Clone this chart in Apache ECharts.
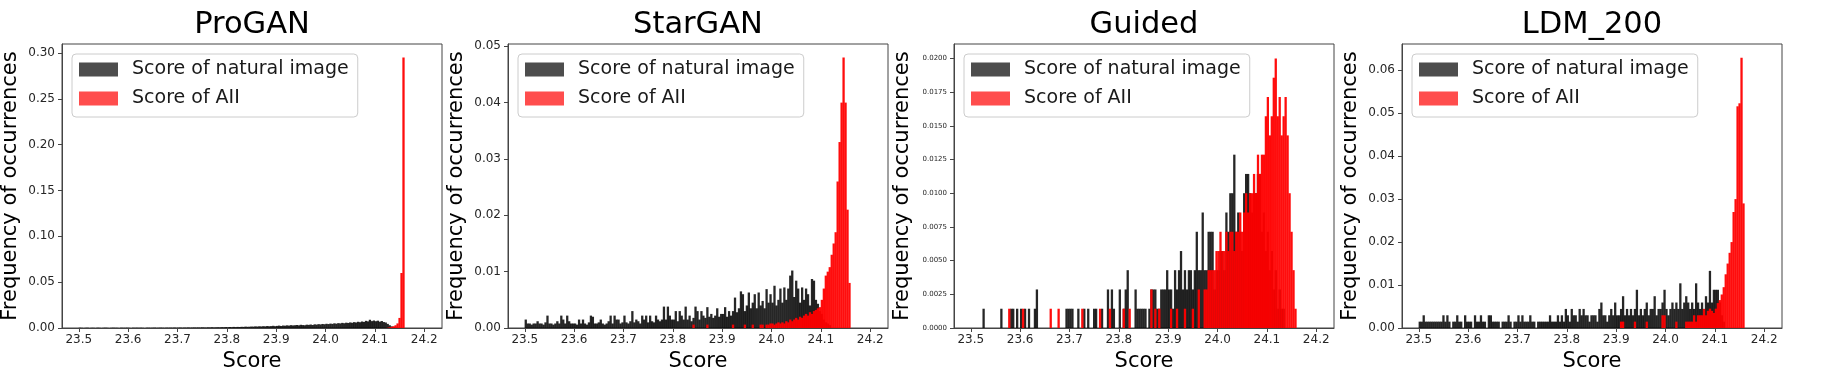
<!DOCTYPE html>
<html><head><meta charset="utf-8">
<script src="https://cdn.jsdelivr.net/npm/echarts@6/dist/echarts.min.js"></script>
<style>html,body{margin:0;padding:0;background:#fff}#c{width:1832px;height:369px}</style>
</head><body><div id="c"></div>
<script>
// ---------- DATA ----------
const BIN_WIDTH = 0.004;
const panelTitles = ['ProGAN', 'StarGAN', 'Guided', 'LDM_200'];
const seriesNames = ['Score of natural image', 'Score of AII'];
const xTicks = [23.5, 23.6, 23.7, 23.8, 23.9, 24.0, 24.1, 24.2];
const yTicksProGAN = [0, 0.05, 0.10, 0.15, 0.20, 0.25, 0.30];
const yTicksStarGAN = [0, 0.01, 0.02, 0.03, 0.04, 0.05];
const yTicksGuided = [0, 0.0025, 0.005, 0.0075, 0.01, 0.0125, 0.015, 0.0175, 0.02];
const yTicksLDM = [0, 0.01, 0.02, 0.03, 0.04, 0.05, 0.06];

// ProGAN
const proganNaturalStart = 23.500;
const proganNatural = [
0.0003,0.0002,0,0.0002,0.0003,0,0.0002,0.0002,0,0.0003,
0.0002,0,0.0002,0.0003,0.0002,0,0.0002,0.0003,0.0002,0.0002,
0,0.0003,0.0002,0.0002,0.0003,0.0002,0,0.0003,0.0002,0.0003,
0.0002,0.0003,0.0002,0,0.0003,0.0003,0.0002,0.0003,0.0004,0.0002,
0.0003,0.0004,0.0003,0.0002,0.0004,0.0003,0.0004,0.0003,0.0005,0.0003,
0.0004,0.0005,0.0003,0.0005,0.0004,0.0006,0.0004,0.0005,0.0006,0.0005,
0.0006,0.0005,0.0007,0.0006,0.0005,0.0007,0.0006,0.0008,0.0006,0.0007,
0.0008,0.0007,0.0009,0.0008,0.0010,0.0008,0.0011,0.0009,0.0012,0.0010,
0.0012,0.0011,0.0013,0.0012,0.0015,0.0013,0.0014,0.0016,0.0015,0.0018,
0.0016,0.0019,0.0017,0.0020,0.0018,0.0022,0.0019,0.0021,0.0024,0.0020,
0.0023,0.0026,0.0022,0.0027,0.0025,0.0029,0.0026,0.0031,0.0028,0.0030,
0.0033,0.0029,0.0035,0.0032,0.0030,0.0036,0.0034,0.0038,0.0033,0.0040,
0.0037,0.0042,0.0039,0.0044,0.0041,0.0046,0.0043,0.0048,0.0045,0.0051,
0.0047,0.0053,0.0050,0.0056,0.0052,0.0058,0.0055,0.0061,0.0057,0.0064,
0.0060,0.0068,0.0063,0.0071,0.0066,0.0078,0.0072,0.0090,0.0075,0.0082,
0.0074,0.0080,0.0069,0.0076,0.0065,0.0060,0.0045,0.0030,0.0018,0.0010,
0.0005,0.0002,0,0,0];
const proganAIStart = 24.120;
const proganAI = [0,0.0003,0.0008,0.0012,0.0020,0.0030,0.0050,0.0110,0.0600,0.2950];

// StarGAN
const starganNaturalStart = 23.500;
const starganNatural = [
0.0015,0.0008,0.0008,0.0006,0.0008,0.0008,0.0012,0.0008,0.0008,0.0006,
0.0010,0.0022,0.0008,0.0008,0.0006,0.0008,0.0012,0.0008,0.0022,0.0015,
0.0008,0.0022,0.0012,0.0008,0.0008,0.0008,0.0006,0.0015,0.0008,0.0015,
0.0008,0.0006,0.0010,0.0022,0.0020,0.0008,0.0008,0.0010,0.0015,0.0008,
0.0006,0.0008,0.0012,0.0022,0.0008,0.0022,0.0015,0.0015,0.0008,0.0010,
0.0022,0.0010,0.0008,0.0012,0.0030,0.0010,0.0015,0.0012,0.0008,0.0022,
0.0015,0.0022,0.0010,0.0022,0.0012,0.0010,0.0022,0.0015,0.0012,0.0015,
0.0038,0.0015,0.0038,0.0022,0.0015,0.0015,0.0030,0.0012,0.0030,0.0022,
0.0015,0.0038,0.0015,0.0022,0.0012,0.0018,0.0038,0.0030,0.0015,0.0030,
0.0022,0.0018,0.0037,0.0020,0.0025,0.0018,0.0022,0.0035,0.0020,0.0025,
0.0025,0.0037,0.0020,0.0030,0.0022,0.0030,0.0054,0.0028,0.0035,0.0065,
0.0060,0.0030,0.0040,0.0063,0.0035,0.0045,0.0060,0.0035,0.0063,0.0040,
0.0048,0.0035,0.0069,0.0045,0.0060,0.0045,0.0075,0.0040,0.0050,0.0070,
0.0045,0.0072,0.0050,0.0070,0.0093,0.0102,0.0055,0.0084,0.0070,0.0045,
0.0072,0.0050,0.0070,0.0060,0.0040,0.0087,0.0084,0.0050,0.0043,0.0030,
0.0025,0.0015,0.0010,0.0008,0.0005,0,0,0,0,0,
0,0,0,0,0];
const starganAIStart = 23.840;
const starganAI = [
0.0006,0,0,0,0,0,0,0.0006,0,0,
0,0,0,0,0,0,0,0,0,0,
0.0006,0,0,0,0,0,0.0006,0,0,0,
0.0006,0,0,0,0.0006,0.0006,0,0.0006,0.0006,0.0008,
0.0008,0.0006,0.0008,0.0010,0.0008,0.0010,0.0008,0.0012,0.0010,0.0015,
0.0012,0.0015,0.0018,0.0015,0.0020,0.0018,0.0022,0.0025,0.0022,0.0028,
0.0025,0.0030,0.0032,0.0035,0.0037,0.0050,0.0070,0.0093,0.0100,0.0108,
0.0130,0.0150,0.0170,0.0260,0.0330,0.0400,0.0480,0.0400,0.0210,0.0080];

// Guided
const guidedNaturalStart = 23.500;
const guidedNatural = [
0,0,0,0,0,0,0.00143,0,0,0,
0,0,0,0,0,0.00143,0,0,0,0,
0.00143,0.00143,0,0.00143,0,0.00143,0,0.00143,0,0.00143,
0,0,0.00143,0.00286,0,0,0,0,0,0,
0,0,0,0,0,0,0,0,0.00143,0.00143,
0.00143,0.00143,0,0,0.00143,0,0,0.00143,0,0.00143,
0,0,0.00143,0.00143,0,0,0.00143,0,0,0.00286,
0,0.00286,0.00143,0,0,0.00286,0,0.00143,0.00286,0.00429,
0,0,0,0.00286,0.00143,0.00143,0.00143,0.00143,0.00143,0,
0.00143,0.00286,0.00286,0.00286,0.00143,0.00143,0.00286,0.00286,0.00286,0.00429,
0.00286,0.00286,0.00143,0.00429,0.00286,0.00429,0.00571,0.00286,0.00429,0.00286,
0.00429,0.00429,0.00286,0.00429,0.00714,0.00429,0.00429,0.00857,0.00429,0.00429,
0.00714,0.00714,0.00714,0.00286,0.00429,0.00429,0.00571,0.00571,0.00429,0.00857,
0.00714,0.01,0.01,0.01286,0.00714,0.00857,0.00714,0.00571,0.01,0.01143,
0.01143,0.01,0.00857,0.01,0.01,0.01143,0.01143,0.00714,0.00857,0.00571,
0.00714,0.00429,0.00571,0.00286,0.00429,0.00143,0.00286,0.00143,0.00143,0,
0,0,0,0,0];
const guidedAIStart = 23.576;
const guidedAI = [
0.00143,0,0,0,0,0,0,0.00143,0,0,
0,0,0,0,0,0,0,0,0,0,
0,0.00143,0,0,0,0.00143,0,0,0,0,
0,0,0,0,0,0,0,0.00143,0,0,
0,0,0,0,0,0,0.00143,0,0,0,
0,0.00143,0,0,0,0,0,0,0.00143,0,
0,0.00143,0,0,0,0,0,0,0,0,
0,0,0.00286,0,0.00143,0,0.00143,0,0,0,
0,0,0.00143,0,0,0.00143,0,0,0,0.00143,
0,0,0,0.00143,0,0,0.00286,0,0,0.00286,
0.00286,0.00429,0.00429,0.00429,0.00429,0.00571,0.00571,0.00714,0.00571,0.00571,
0.00714,0.00571,0.00714,0.00714,0.00571,0.00714,0.00714,0.00857,0.00714,0.00857,
0.01,0.00857,0.01,0.01,0.01143,0.01,0.01286,0.01143,0.01286,0.01286,
0.01571,0.01714,0.01429,0.01571,0.01857,0.02,0.01571,0.01714,0.01429,0.01571,
0.01714,0.01429,0.01,0.00714,0.00429,0.00143];

// LDM_200
const ldmNaturalStart = 23.500;
const ldmNatural = [
0.00148,0.00148,0.00296,0.00148,0.00148,0.00148,0.00148,0.00148,0.00148,0.00148,
0.00148,0.00148,0.00296,0.00148,0.00296,0.00148,0,0.00148,0.00148,0.00296,
0.00148,0.00148,0,0.00296,0.00148,0.00148,0.00148,0,0.00296,0.00148,
0.00148,0.00296,0.00148,0.00148,0,0.00296,0.00296,0.00148,0.00148,0.00148,
0.00148,0,0.00148,0.00148,0.00148,0.00296,0.00148,0,0.00148,0.00148,
0.00296,0.00148,0.00296,0.00148,0.00148,0.00148,0.00296,0.00148,0.00148,0,
0.00148,0.00148,0.00148,0.00148,0.00148,0.00148,0.00296,0.00148,0.00148,0.00148,
0.00296,0.00148,0.00296,0.00148,0.00444,0.00296,0.00148,0.00444,0.00296,0.00296,
0.00148,0.00444,0.00296,0.00444,0.00296,0.00296,0.00148,0.00296,0.00296,0.00296,
0.00148,0.00444,0.00593,0.00296,0.00296,0.00148,0.00296,0.00444,0.00296,0.00593,
0.00296,0.00296,0.00444,0.0074,0.00296,0.00444,0.00296,0.00444,0.00296,0.00444,
0.0089,0.00296,0.00444,0.00296,0.00444,0.00593,0.00296,0.00444,0.00444,0.0074,
0.00296,0.00444,0.00444,0.00593,0.0089,0.00444,0.00296,0.00444,0.00593,0.00444,
0.00593,0.00444,0.0104,0.00444,0.00593,0.0074,0.00593,0.00444,0.00593,0.00444,
0.0104,0.00593,0.00444,0.00593,0.00444,0.0074,0.00593,0.0133,0.00593,0.0089,
0.0089,0.0089,0.00593,0.00296,0.00148,0,0,0,0,0,
0,0,0,0,0];
const ldmAIStart = 23.908;
const ldmAI = [
0.00148,0.00148,0,0,0,0,0,0.00148,0,0,
0,0,0,0.00148,0,0,0,0,0,0,
0,0.00296,0.00296,0,0,0,0,0,0.00148,0,
0,0,0,0.00148,0.00148,0.00148,0.00148,0.00296,0.00148,0.00296,
0.00296,0.00296,0.00444,0.00296,0.0040,0.0045,0.0040,0.0035,0.0045,0.0058,
0.0065,0.0078,0.0095,0.0125,0.0150,0.0175,0.0200,0.0270,0.0300,0.0516,
0.0523,0.0629,0.0290];

// ---------- BUILD ----------
function toPairs(start, values) {
  return values.map((v, k) => [+(start + (k + 0.5) * BIN_WIDTH).toFixed(4), v]);
}
const panels = [
  { nat: toPairs(proganNaturalStart, proganNatural), ai: toPairs(proganAIStart, proganAI), ticks: yTicksProGAN, max: 0.3098, dec: 2, fs: 12 },
  { nat: toPairs(starganNaturalStart, starganNatural), ai: toPairs(starganAIStart, starganAI), ticks: yTicksStarGAN, max: 0.0504, dec: 2, fs: 12 },
  { nat: toPairs(guidedNaturalStart, guidedNatural), ai: toPairs(guidedAIStart, guidedAI), ticks: yTicksGuided, max: 0.02107, dec: 4, fs: 7 },
  { nat: toPairs(ldmNaturalStart, ldmNatural), ai: toPairs(ldmAIStart, ldmAI), ticks: yTicksLDM, max: 0.0661, dec: 2, fs: 12 }
];
const gridLeft = [62, 508, 954, 1402];
const GW = 380, GT = 44, GH = 284;
const FONT = 'DejaVu Sans';
const LINE = '#444';
const NAT_BAR = 'rgba(0,0,0,0.85)';
const AI_BAR = 'rgba(255,0,0,0.95)';
const BAR_PX = 2.3;

const option = {
  animation: false,
  backgroundColor: '#fff',
  title: panelTitles.map((t, k) => ({
    text: t, left: gridLeft[k] + GW / 2, top: 10, textAlign: 'center', padding: 0,
    textStyle: { fontFamily: FONT, fontSize: 30.5, fontWeight: 'normal', color: '#000' }
  })),
  legend: panels.map((p, k) => ({
    orient: 'vertical', left: gridLeft[k] + 10, top: 54,
    data: [
      { name: seriesNames[0], itemStyle: { color: '#4d4d4d' } },
      { name: seriesNames[1], itemStyle: { color: '#ff4d4d' } }
    ],
    icon: 'rect', itemWidth: 39, itemHeight: 14, itemGap: 10,
    padding: [6, 9, 9, 7], borderColor: '#cccccc', borderWidth: 1, borderRadius: 4,
    backgroundColor: 'rgba(255,255,255,0.8)', selectedMode: false,
    formatter: name => '{g|}' + name,
    textStyle: { fontFamily: FONT, fontSize: 19, color: '#1a1a1a', width: 227, overflow: 'none',
      rich: { g: { width: 9 } } }
  })),
  grid: panels.map((p, k) => ({
    left: gridLeft[k], top: GT, width: GW, height: GH, show: true, outerBoundsMode: 'none',
    containLabel: false, borderColor: LINE, borderWidth: 1, backgroundColor: 'transparent'
  })),
  xAxis: panels.map((p, k) => ({
    type: 'value', gridIndex: k, min: 23.466, max: 24.236,
    name: 'Score', nameLocation: 'middle', nameGap: 22,
    nameTextStyle: { fontFamily: FONT, fontSize: 21, color: '#000' },
    axisLine: { show: true, onZero: false, lineStyle: { color: LINE, width: 1 } },
    axisTick: { show: true, length: 4, customValues: xTicks, lineStyle: { color: LINE } },
    axisLabel: { customValues: xTicks, margin: 6, fontFamily: FONT, fontSize: 12, color: '#262626',
      formatter: v => v.toFixed(1) },
    splitLine: { show: false }
  })),
  yAxis: panels.map((p, k) => ({
    type: 'value', gridIndex: k, min: 0, max: p.max,
    name: 'Frequency of occurrences', nameLocation: 'middle', nameGap: 41,
    nameTextStyle: { fontFamily: FONT, fontSize: 21, color: '#000' },
    axisLine: { show: true, lineStyle: { color: LINE, width: 1 } },
    axisTick: { show: true, length: 4, customValues: p.ticks, lineStyle: { color: LINE } },
    axisLabel: { customValues: p.ticks, margin: 7, fontFamily: FONT, fontSize: p.fs, color: '#262626',
      formatter: v => v.toFixed(p.dec) },
    splitLine: { show: false }
  })),
  series: []
};
panels.forEach((p, k) => {
  option.series.push({
    name: seriesNames[0], type: 'bar', xAxisIndex: k, yAxisIndex: k, data: p.nat,
    barWidth: BAR_PX, barGap: '-100%', itemStyle: { color: NAT_BAR }, silent: true
  });
  option.series.push({
    name: seriesNames[1], type: 'bar', xAxisIndex: k, yAxisIndex: k, data: p.ai,
    barWidth: BAR_PX, barGap: '-100%', itemStyle: { color: AI_BAR }, silent: true
  });
});
const chart = echarts.init(document.getElementById('c'), null, { renderer: 'canvas' });
chart.setOption(option);
</script></body></html>
